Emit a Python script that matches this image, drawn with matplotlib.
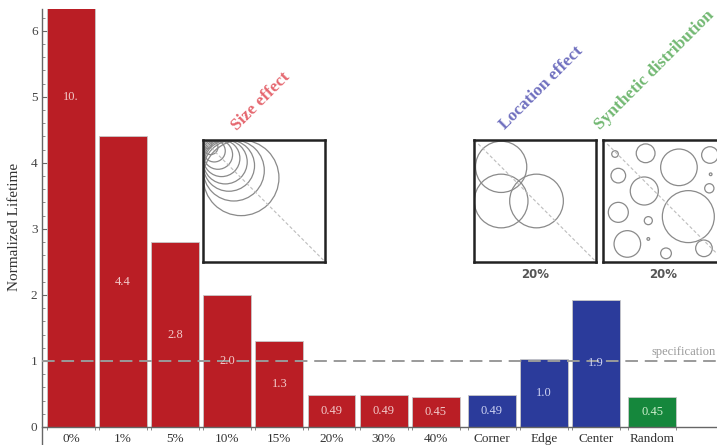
import matplotlib
matplotlib.use("Agg")
import matplotlib.pyplot as plt
from matplotlib.patches import Circle
import numpy as np

# ---------------- data ----------------
categories = ['0%', '1%', '5%', '10%', '15%', '20%', '30%', '40%',
              'Corner', 'Edge', 'Center', 'Random']
values = [10.0, 4.4, 2.8, 2.0, 1.3, 0.49, 0.49, 0.45, 0.49, 1.03, 1.93, 0.45]
value_labels = ['10.', '4.4', '2.8', '2.0', '1.3', '0.49', '0.49', '0.45',
                '0.49', '1.0', '1.9', '0.45']
groups = ['size'] * 8 + ['location'] * 3 + ['synthetic']
spec_level = 1.0

# inset decorations (box-relative coordinates, y measured from top)
size_radii = [0.31, 0.25, 0.21, 0.18, 0.15, 0.12, 0.09, 0.06, 0.035]
loc_x = [0.22, 0.22, 0.51]
loc_y = [0.22, 0.50, 0.50]
loc_r = [0.21, 0.22, 0.22]
syn_x = [0.096, 0.347, 0.62, 0.874, 0.123, 0.336, 0.88, 0.869, 0.123, 0.369,
         0.697, 0.197, 0.369, 0.514, 0.825]
syn_y = [0.115, 0.109, 0.224, 0.123, 0.292, 0.418, 0.281, 0.396, 0.593, 0.661,
         0.628, 0.852, 0.811, 0.929, 0.888]
syn_r = [0.027, 0.077, 0.15, 0.068, 0.06, 0.115, 0.011, 0.038, 0.082, 0.033,
         0.213, 0.109, 0.011, 0.044, 0.068]

# ---------------- style ----------------
bar_colors = {'size': '#BA1E25', 'location': '#2B3B9B', 'synthetic': '#15873C'}
label_colors = {'size': '#F2CACA', 'location': '#CDD2F2', 'synthetic': '#CDEFCD'}
title_colors = {'size': '#E5676F', 'location': '#6F6FBF', 'synthetic': '#72B872'}
serif = ['Liberation Serif', 'DejaVu Serif']

W, H = 717, 445
fig = plt.figure(figsize=(W / 100, H / 100), dpi=100)

left_px, top_px = 41.7, 9
ax = fig.add_axes([left_px / W, 0, 1 - left_px / W, (H - top_px) / H])

# positions with small gaps between groups
pos = []
offset = 0.0
for i, g in enumerate(groups):
    if i > 0 and g != groups[i - 1]:
        offset += 0.08
    pos.append(i + offset)
pos = np.array(pos)
width = 0.92

cols = [bar_colors[g] for g in groups]
ax.bar(pos, values, width=width, color=cols, edgecolor='#c8c8c8',
       linewidth=0.6, zorder=2)

ymax = 6.33
for p, v, lab, g in zip(pos, values, value_labels, groups):
    yv = v / 2.0
    ax.text(p, yv, lab, ha='center', va='center', color=label_colors[g],
            fontsize=9, family=serif, zorder=5)

ax.axhline(spec_level, color='#9a9a9a', lw=1.4, dashes=(6.5, 3.5), zorder=4)
ax.text(11.15, spec_level + 0.05, 'specification', ha='left', va='bottom',
        color='#9a9a9a', fontsize=9, family=serif, zorder=5)

ax.set_xlim(-0.562, 12.40)
ax.set_ylim(-0.273, ymax)

for s in ['top', 'right']:
    ax.spines[s].set_visible(False)
ax.spines['bottom'].set_position(('data', 0))
for s in ['left', 'bottom']:
    ax.spines[s].set_color('#666666')
    ax.spines[s].set_linewidth(1.0)

ax.set_yticks(range(0, 7))
ax.set_yticks(np.arange(0, 6.4, 0.2), minor=True)
ax.tick_params(axis='y', which='major', direction='in', length=4, width=0.8,
               colors='#666666', labelcolor='#444444', labelsize=9.5, pad=3)
ax.tick_params(axis='y', which='minor', direction='in', length=2.2, width=0.6,
               colors='#777777')
for t in ax.get_yticklabels():
    t.set_family(serif)

ax.set_xticks(pos)
ax.set_xticklabels(categories, family=serif, fontsize=9.5, color='#333333')
ax.tick_params(axis='x', which='major', length=0, pad=4)
edges = np.concatenate([pos - width / 2, pos + width / 2])
ax.set_xticks(edges, minor=True)
ax.tick_params(axis='x', which='minor', direction='inout', length=5,
               width=0.6, colors='#777777')

ax.set_ylabel('Normalized Lifetime', family=serif, fontsize=11,
              color='#333333', labelpad=7)

# ---------------- insets ----------------
box = 122


def make_inset(x_px, y_px):
    a = fig.add_axes([x_px / W, 1 - (y_px + box) / H, box / W, box / H])
    a.set_xlim(0, 1)
    a.set_ylim(0, 1)
    a.set_xticks([])
    a.set_yticks([])
    for s in a.spines.values():
        s.set_linewidth(1.8)
        s.set_color('#222222')
    a.plot([0, 1], [1, 0], color='#bdbdbd', lw=0.8, dashes=(3, 2))
    return a


circ_kw = dict(fill=False, edgecolor='#8a8a8a', lw=0.9)

a1 = make_inset(203.3, 140)
for r in size_radii:
    a1.add_patch(Circle((r, 1 - r), r, **circ_kw))

a2 = make_inset(474.3, 140)
for cx, cy, r in zip(loc_x, loc_y, loc_r):
    a2.add_patch(Circle((cx, 1 - cy), r, **circ_kw))

a3 = make_inset(603.3, 140)
for cx, cy, r in zip(syn_x, syn_y, syn_r):
    a3.add_patch(Circle((cx, 1 - cy), r, **circ_kw))

for xc in (535, 663):
    fig.text(xc / W, 1 - 274 / H, '20%', ha='center', va='center',
             fontsize=8.5, fontweight='bold', color='#555555',
             family='DejaVu Sans')

titles = [('Size effect', 260.5, 101.5, 'size'),
          ('Location effect', 541, 88, 'location'),
          ('Synthetic distribution', 654.5, 70.5, 'synthetic')]
for txt, xc, yc, g in titles:
    fig.text(xc / W, 1 - yc / H, txt, ha='center', va='center', rotation=45,
             rotation_mode='anchor', fontsize=12.5, fontweight='bold',
             color=title_colors[g], family=serif)

fig.savefig('out.png', dpi=100)
